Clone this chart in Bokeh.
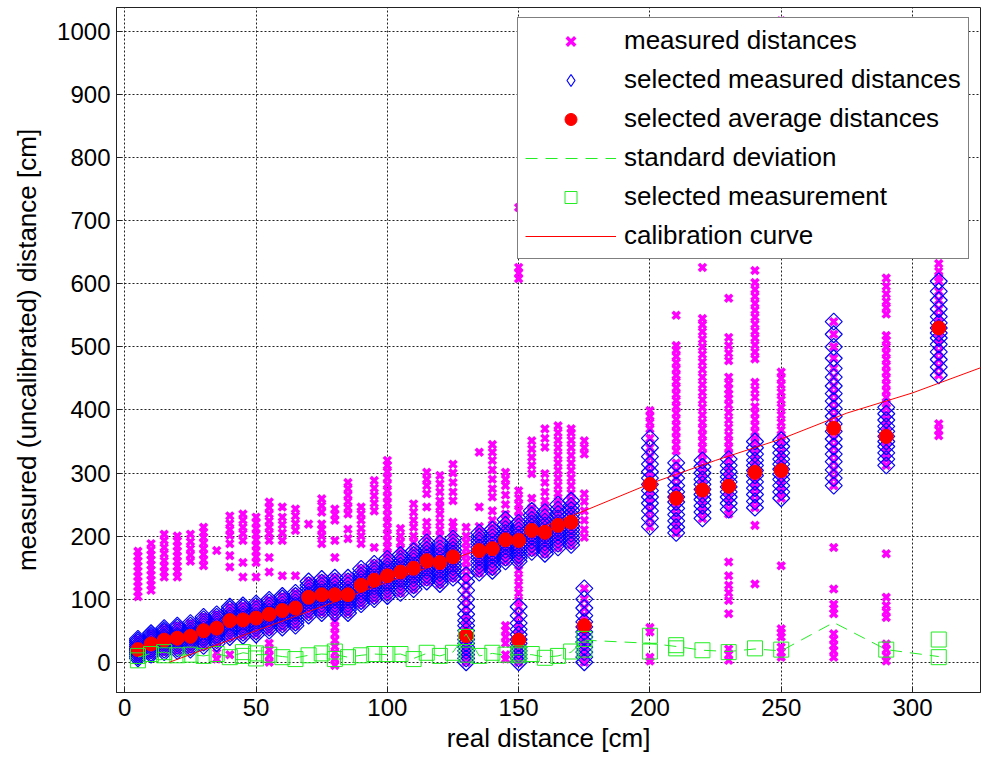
import numpy as np
from bokeh.plotting import figure
from bokeh.models import FixedTicker
from bokeh.embed import file_html
from bokeh.resources import INLINE

# ---------------- data ----------------
sel_cols = [5, 10, 15, 20, 25, 30, 35, 40, 45, 50, 55, 60, 65, 70, 75, 80, 85, 90, 95, 100,
            105, 110, 115, 120, 125, 130, 135, 140, 145, 150, 150, 155, 160, 165, 170, 175,
            200, 210, 220, 230, 240, 250, 270, 290, 310]
sel_vals = [
    [6, 9, 12, 15, 18, 20, 22, 25, 28, 31, 34, 37],
    [12, 15, 19, 22, 25, 28, 31, 34, 37, 40, 43, 46],
    [16, 20, 24, 28, 31, 34, 37, 40, 44, 48, 51, 54],
    [18, 22, 26, 30, 34, 37, 40, 43, 47, 51, 55, 58],
    [20, 24, 28, 32, 36, 40, 43, 46, 50, 54, 58, 62],
    [26, 31, 36, 40, 44, 48, 52, 56, 60, 64, 68, 72],
    [30, 35, 40, 44, 48, 52, 56, 60, 64, 68, 72, 76],
    [40, 45, 50, 54, 58, 62, 66, 70, 74, 79, 84, 88],
    [42, 47, 52, 56, 60, 64, 68, 72, 76, 81, 86, 90],
    [44, 49, 54, 58, 62, 66, 70, 74, 79, 84, 89, 93],
    [50, 55, 60, 64, 68, 72, 76, 80, 85, 90, 95, 99],
    [55, 60, 65, 70, 74, 78, 82, 86, 91, 96, 101, 105],
    [58, 63, 68, 73, 78, 82, 86, 90, 95, 100, 105, 110],
    [74, 79, 84, 89, 94, 99, 103, 107, 112, 117, 122, 128],
    [78, 83, 88, 93, 98, 103, 107, 111, 116, 121, 126, 132],
    [78, 83, 88, 93, 98, 103, 107, 111, 116, 122, 128, 134],
    [78, 83, 88, 93, 98, 103, 107, 111, 116, 122, 128, 134],
    [92, 97, 102, 107, 112, 117, 122, 127, 132, 137, 142, 148],
    [100, 105, 110, 115, 120, 125, 130, 135, 140, 145, 150, 156],
    [105, 110, 116, 121, 126, 131, 137, 142, 147, 152, 158, 164],
    [110, 116, 121, 127, 132, 137, 143, 148, 153, 159, 164, 170],
    [116, 122, 127, 133, 138, 144, 149, 154, 160, 165, 170, 176],
    [128, 134, 139, 145, 150, 156, 161, 166, 172, 178, 184, 190],
    [124, 130, 135, 141, 146, 152, 158, 163, 169, 175, 181, 188],
    [134, 140, 145, 151, 156, 162, 167, 172, 178, 184, 190, 196],
    [0, 6, 12, 18, 24, 30, 36, 42, 50, 58, 66, 76, 88, 100, 114, 128, 138],
    [142, 148, 154, 160, 166, 171, 177, 182, 188, 193, 199, 205],
    [145, 151, 157, 163, 169, 174, 180, 186, 192, 198, 204, 210],
    [160, 166, 172, 178, 184, 189, 194, 199, 205, 211, 218, 226],
    [160, 165, 170, 176, 181, 186, 192, 197, 203, 209, 215, 221],
    [0, 6, 12, 18, 24, 30, 36, 44, 52, 62, 74, 88],
    [175, 181, 187, 193, 199, 204, 209, 214, 220, 226, 233, 240],
    [172, 178, 184, 190, 196, 201, 206, 211, 217, 223, 230, 238],
    [182, 188, 194, 200, 206, 211, 216, 221, 228, 235, 242, 250],
    [186, 192, 198, 204, 210, 216, 222, 228, 234, 241, 248, 256],
    [0, 8, 16, 24, 32, 40, 48, 56, 64, 74, 86, 100, 117],
    [215, 228, 240, 252, 262, 272, 282, 292, 302, 314, 326, 340, 355],
    [205, 214, 224, 234, 244, 254, 262, 270, 280, 292, 304, 316],
    [228, 238, 248, 258, 266, 274, 282, 290, 300, 310, 320],
    [242, 252, 262, 270, 278, 286, 294, 302, 312, 322],
    [245, 255, 266, 276, 286, 296, 304, 312, 320, 330, 340, 350],
    [260, 270, 280, 290, 298, 306, 314, 322, 332, 342, 352],
    [280, 292, 305, 318, 330, 342, 354, 366, 378, 390, 402, 414, 426, 438, 452, 466, 482, 500, 520, 540],
    [312, 322, 332, 342, 350, 358, 366, 374, 384, 394, 404],
    [455, 468, 480, 492, 504, 514, 522, 530, 538, 548, 560, 574, 588, 604],
]
avg_vals = [20, 29, 35, 38, 41, 50, 54, 66, 67, 70, 76, 82, 86, 103, 107, 107, 107, 122, 130, 137,
            143, 149, 161, 158, 167, 42, 177, 180, 194, 193, 35, 209, 206, 217, 222, 58,
            282, 260, 273, 279, 301, 304, 371, 358, 530]

out_cols = [5, 10, 15, 20, 25, 30, 35, 40, 45, 50, 55, 60, 65, 70, 75, 80, 85, 90, 95, 100,
            105, 110, 115, 120, 125, 130, 135, 140, 145, 150, 155, 160, 165, 170, 175,
            200, 210, 220, 230, 240, 250, 270, 290, 310]
out_vals = [
    [104, 112, 120, 128, 136, 144, 152, 160, 168, 176],
    [114, 122, 130, 138, 146, 154, 162, 170, 178, 188],
    [135, 143, 152, 161, 172, 182, 193, 203],
    [135, 144, 152, 160, 168, 176, 184, 192, 200],
    [160, 170, 180, 191, 203],
    [153, 162, 171, 180, 189, 198, 206, 214],
    [5, 15, 177],
    [12, 151, 169, 188, 201, 210, 220, 232],
    [135, 158, 193, 204, 214, 225, 235],
    [135, 158, 167, 176, 185, 194, 203, 212, 221, 230],
    [0, 10, 20, 30, 143, 166, 193, 204, 214, 224, 235, 245, 254],
    [137, 193, 205, 218, 230, 246],
    [137, 209, 220, 232, 243],
    [219],
    [188, 200, 210, 219, 238, 248, 259],
    [-5, 5, 15, 25, 35, 45, 55, 65, 166, 193, 225, 234, 243],
    [196, 211, 235, 245, 255, 265, 275, 285],
    [188, 200, 212, 225, 235, 246],
    [182, 240, 252, 264, 276, 288],
    [172, 182, 192, 202, 212, 222, 232, 242, 252, 262, 272, 282, 292, 302, 312, 320],
    [180, 190, 200, 212],
    [190, 200, 214, 225, 238, 251],
    [200, 210, 222, 246, 267, 280, 290, 301],
    [200, 210, 222, 235, 246, 256, 270, 283, 296],
    [205, 215, 222, 256, 270, 285, 300, 314],
    [5, 150, 160, 170, 180, 190, 200, 214],
    [215, 246, 333],
    [215, 225, 240, 262, 275, 290, 305, 320, 333, 345],
    [5, 12, 30, 40, 50, 58, 235, 250, 265, 280, 290, 301],
    [3, 13, 45, 55, 98, 110, 122, 134, 146, 230, 240, 250, 260, 272, 608, 617, 626, 721],
    [245, 260, 299, 312, 325, 338, 351],
    [245, 256, 270, 285, 299, 341, 355, 370],
    [256, 268, 280, 292, 304, 316, 328, 340, 352, 364, 375],
    [256, 268, 280, 292, 304, 316, 328, 340, 352, 364, 370],
    [198, 210, 225, 240, 255, 267, 330, 340, 351],
    [2, 8, 48, 55, 370, 380, 390, 399],
    [335, 345, 355, 365, 375, 385, 395, 405, 415, 425, 435, 445, 455, 465, 475, 485, 495, 502, 550],
    [330, 340, 350, 360, 370, 380, 392, 404, 416, 428, 440, 452, 464, 476, 488, 500, 512, 524, 535, 545, 626],
    [3, 12, 21, 77, 98, 110, 122, 137, 159, 235, 330, 340, 350, 360, 372, 384, 396, 408, 418, 425, 433,
     442, 452, 478, 490, 502, 515, 577],
    [124, 217, 355, 365, 375, 385, 395, 405, 420, 432, 444, 481, 492, 503, 514, 525, 536, 547, 558, 569,
     580, 591, 602, 621],
    [8, 16, 24, 40, 47, 53, 153, 357, 368, 380, 392, 404, 416, 428, 440, 450, 460, 1017],
    [8, 18, 27, 36, 45, 77, 85, 92, 116, 182],
    [2, 10, 20, 29, 71, 80, 90, 103, 172, 410, 420, 430, 440, 450, 460, 470, 480, 490, 500, 510, 518,
     552, 562, 572, 584, 596, 609],
    [359, 368, 378, 610, 620, 632],
]

std_x = [5, 10, 15, 20, 25, 30, 35, 40, 45, 50, 55, 60, 65, 70, 75, 80, 85, 90, 95, 100,
         105, 110, 115, 120, 125, 130, 135, 140, 145, 150, 155, 160, 165, 170, 175,
         200, 210, 220, 230, 240, 250, 270, 290, 310]
std_y = [8, 14, 16, 11, 12, 10, 13, 9, 15, 12, 12, 9, 7, 11, 13, 12, 8, 11, 13, 12,
         13, 6, 14, 10, 16, 45, 10, 14, 11, 12, 12, 8, 10, 16, 35,
         30, 25, 19, 17, 21, 18, 63, 20, 9]

sq_x = [5, 5, 10, 15, 15, 20, 25, 30, 35, 40, 45, 45, 50, 50, 55, 60, 65, 70, 75, 80, 80, 85, 90,
        95, 100, 105, 110, 115, 120, 125, 130, 130, 135, 140, 145, 150, 150, 155, 160, 165, 170,
        175, 175, 200, 200, 210, 210, 220, 230, 240, 250, 290, 310, 310]
sq_y = [10, 3, 13, 16, 11, 11, 12, 10, 13, 8, 16, 10, 14, 6, 12, 8, 5, 11, 14, 17, 5, 8, 11,
        13, 13, 13, 5, 15, 10, 15, 40, 12, 10, 15, 12, 11, 14, 13, 7, 10, 17,
        37, 20, 42, 17, 27, 22, 19, 16, 22, 20, 20, 36, 8]

calib_x = [17, 30, 50, 75, 100, 125, 150, 175, 200, 225, 250, 275, 300, 326]
calib_y = [0, 20, 50, 88, 127, 164, 200, 240, 283, 320, 354, 395, 427, 467]

x_ticks = [0, 50, 100, 150, 200, 250, 300]
y_ticks = [0, 100, 200, 300, 400, 500, 600, 700, 800, 900, 1000]

# ---------------- expand ----------------
sel_x, sel_y = [], []
for c, vals in zip(sel_cols, sel_vals):
    sel_x += [c] * len(vals)
    sel_y += vals
meas_x, meas_y = list(sel_x), list(sel_y)
for c, vals in zip(out_cols, out_vals):
    meas_x += [c] * len(vals)
    meas_y += vals

FONT = "Liberation Sans"
MAG = "#FF00FF"
BLUE = "#0000FF"
RED = "#FF0000"
GREEN = "#22EE22"

p = figure(width=982, height=765, x_range=(-3.16, 325.9), y_range=(-48.0, 1038.1),
           output_backend="svg", toolbar_location=None,
           min_border_left=116, min_border_right=2, min_border_top=7, min_border_bottom=73)
p.background_fill_color = "white"
p.border_fill_color = "white"
p.outline_line_color = "#222222"
p.outline_line_width = 1

p.scatter(meas_x, meas_y, marker="x", size=10, line_width=3.5, color=MAG,
          legend_label="measured distances")
p.scatter(sel_x, sel_y, marker="square", angle=np.pi / 4, size=12, line_color=BLUE,
          fill_color=None, line_width=1.2)
# legend-only proxy (NaN position, never drawn in the plot area)
p.scatter(x=[np.nan], y=[np.nan], marker="diamond", size=20, line_color=BLUE, fill_color=None,
          line_width=1.2, legend_label="selected measured distances")
p.scatter(sel_cols, avg_vals, marker="circle", size=14, fill_color=RED,
          line_color=RED, legend_label="selected average distances")
p.multi_line([std_x], [std_y], line_color=GREEN, line_dash="12 8", line_width=1,
             legend_label="standard deviation")
p.scatter(sq_x, sq_y, marker="square", size=15, line_color=GREEN, fill_color=None,
          line_width=1, legend_label="selected measurement")
p.multi_line([calib_x], [calib_y], line_color=RED, line_width=1,
             legend_label="calibration curve")

for ax in (p.xaxis, p.yaxis):
    ax.major_label_text_font = FONT
    ax.major_label_text_font_size = "24px"
    ax.major_label_text_color = "black"
    ax.axis_label_text_font = FONT
    ax.axis_label_text_font_size = "26px"
    ax.axis_label_text_font_style = "normal"
    ax.axis_label_text_color = "black"
    ax.axis_line_color = "#222222"
    ax.major_tick_in = 6
    ax.major_tick_out = 0
    ax.major_tick_line_color = "#222222"
    ax.minor_tick_line_color = None

p.xaxis.ticker = FixedTicker(ticks=x_ticks)
p.yaxis.ticker = FixedTicker(ticks=y_ticks)
p.xaxis.axis_label = "real distance [cm]"
p.yaxis.axis_label = "measured (uncalibrated) distance [cm]"
p.xaxis.major_label_standoff = 6
p.xaxis.axis_label_standoff = 4
p.yaxis.major_label_standoff = 6
p.yaxis.axis_label_standoff = 12

for g in (p.xgrid, p.ygrid):
    g.grid_line_color = "#222222"
    g.grid_line_dash = "2 2"
    g.grid_line_width = 1
    g.grid_line_alpha = 1.0

lg = p.legend[0]
lg.location = (401, 433)
lg.label_text_font = FONT
lg.label_text_font_size = "26px"
lg.label_text_color = "black"
lg.border_line_color = "black"
lg.border_line_width = 1
lg.background_fill_color = "white"
lg.background_fill_alpha = 1.0
lg.padding = 7
lg.spacing = 8
lg.margin = 0
lg.glyph_width = 91
lg.glyph_height = 30
lg.label_height = 30
lg.label_standoff = 8

open("out.html", "w").write(file_html(p, INLINE))
